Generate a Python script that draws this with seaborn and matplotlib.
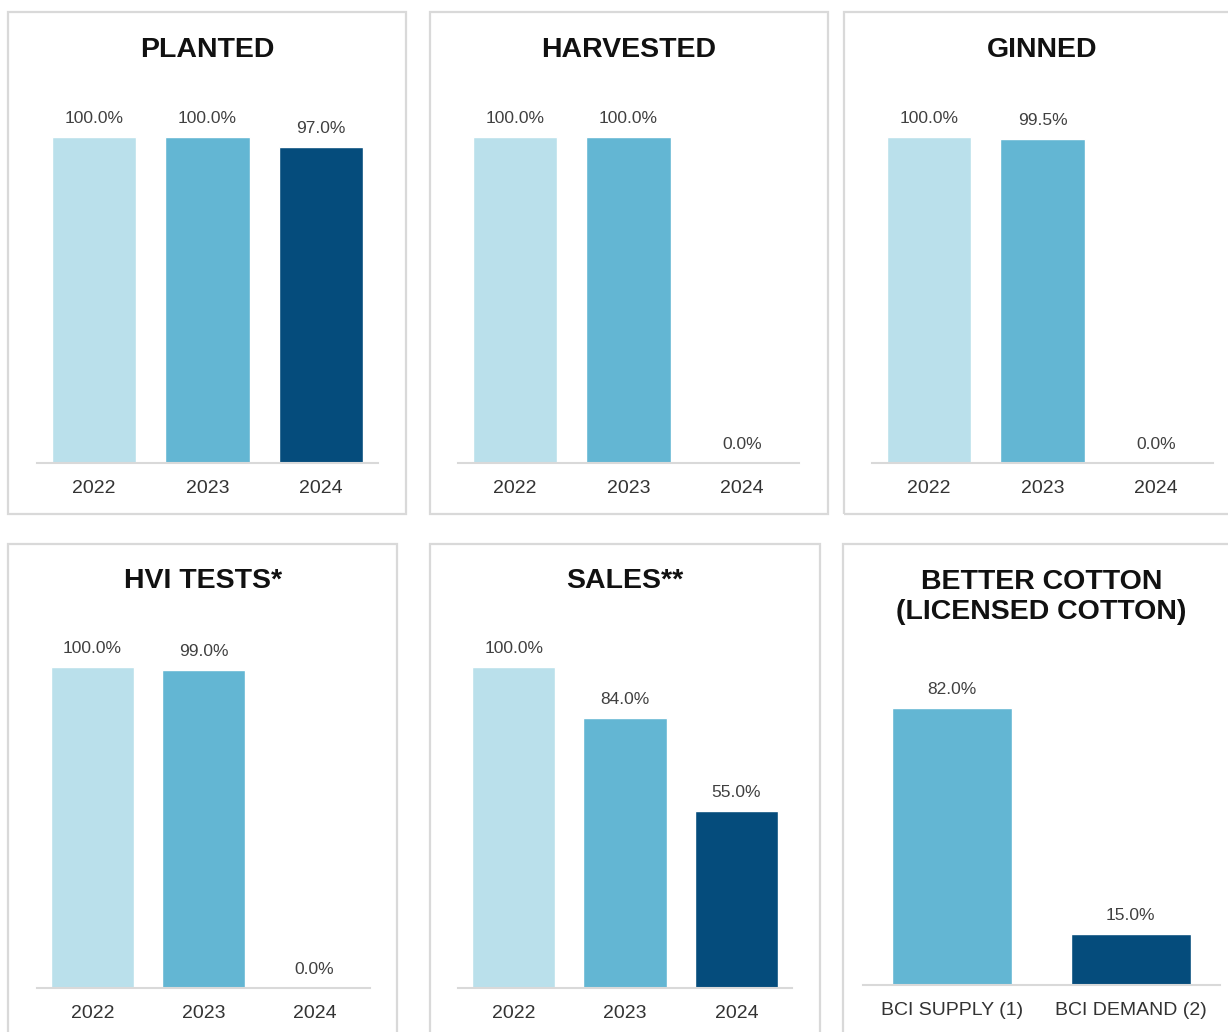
import matplotlib
matplotlib.use("Agg")
import matplotlib.pyplot as plt
import seaborn as sns
import pandas as pd
from matplotlib.patches import Rectangle

# data
years = ["2022", "2023", "2024"]
planted = [100.0, 100.0, 97.0]
harvested = [100.0, 100.0, 0.0]
ginned = [100.0, 99.5, 0.0]
hvi_tests = [100.0, 99.0, 0.0]
sales = [100.0, 84.0, 55.0]
bci_labels = ["BCI SUPPLY (1)", "BCI DEMAND (2)"]
bci_values = [82.0, 15.0]

year_colors = ["#BAE0EB", "#63B6D3", "#054C7C"]
bci_colors = ["#63B6D3", "#054C7C"]

sns.set_theme(style="white")
plt.rcParams["font.family"] = ["Liberation Sans", "DejaVu Sans"]

W, H = 1228, 1032
fig = plt.figure(figsize=(W / 100, H / 100), dpi=100)


def fx(x):
    return x / W


def fy(y):
    return 1 - y / H


def draw_panel(frame, axline, title, title_y, cats, vals, colors, bar_w, ppu):
    # frame border
    x0, y0, x1, y1 = frame
    fig.add_artist(Rectangle((fx(x0), fy(y1)), (x1 - x0) / W, (y1 - y0) / H,
                             transform=fig.transFigure, fill=False,
                             ec="#D9D9D9", lw=1.6))
    ax_l, ax_r, base, top = axline
    ax = fig.add_axes([fx(ax_l), fy(base), (ax_r - ax_l) / W, (base - top) / H])
    ax.patch.set_alpha(0)
    df = pd.DataFrame({"cat": cats, "val": vals})
    sns.barplot(data=df, x="cat", y="val", hue="cat", order=cats, hue_order=cats,
                palette=colors, legend=False, width=bar_w, saturation=1, ax=ax)
    for c in ax.containers:
        ax.bar_label(c, labels=[f"{b.get_height():.1f}%" for b in c],
                     padding=8, fontsize=12.5, color="#404040")
    ax.set_xlim(-0.5, len(cats) - 0.5)
    ax.set_ylim(0, (base - top) / ppu)
    ax.set_xlabel("")
    ax.set_ylabel("")
    ax.set_yticks([])
    for s in ["left", "top", "right"]:
        ax.spines[s].set_visible(False)
    ax.spines["bottom"].set_color("#D9D9D9")
    ax.spines["bottom"].set_linewidth(1.5)
    ax.tick_params(axis="x", length=0, pad=12.5, labelsize=14, labelcolor="#333333")
    fig.text(fx((ax_l + ax_r) / 2), fy(title_y), title, ha="center", va="center",
             fontsize=20.5, fontweight="bold", color="#111111", linespacing=1.22)
    return ax


draw_panel((8, 12, 406, 514), (37, 378, 463, 80), "PLANTED", 50,
           years, planted, year_colors, 0.74, 3.26)
draw_panel((430, 12, 828, 514), (458, 799, 463, 80), "HARVESTED", 50,
           years, harvested, year_colors, 0.74, 3.26)
draw_panel((844, 12, 1240, 514), (872, 1213, 463, 80), "GINNED", 50,
           years, ginned, year_colors, 0.74, 3.26)
draw_panel((8, 544, 397, 1040), (37, 370, 988, 620), "HVI TESTS*", 581,
           years, hvi_tests, year_colors, 0.75, 3.21)
draw_panel((430, 544, 820, 1040), (458, 792, 988, 620), "SALES**", 581,
           years, sales, year_colors, 0.75, 3.21)
draw_panel((843, 544, 1240, 1040), (863, 1220, 985, 650),
           "BETTER COTTON\n(LICENSED COTTON)", 597,
           bci_labels, bci_values, bci_colors, 0.67, 3.38)

fig.savefig("out.png", dpi=100)
